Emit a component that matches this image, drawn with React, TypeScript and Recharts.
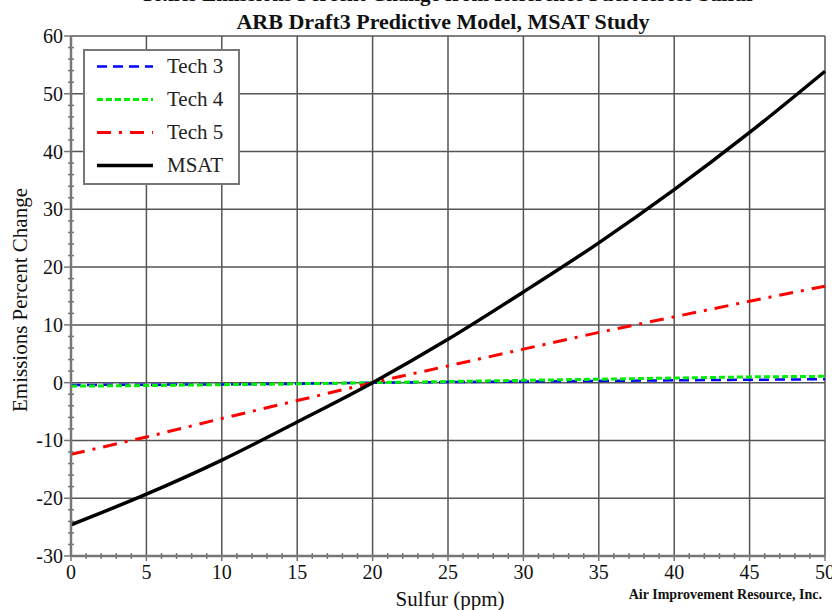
import React from "react";
import {
  LineChart,
  Line,
  XAxis,
  YAxis,
  ReferenceLine,
  Legend,
} from "recharts";

const sulfur = [0, 5, 10, 15, 20, 25, 30, 35, 40, 45, 50];
const tech3 = [-0.4, -0.35, -0.3, -0.2, 0, 0.1, 0.2, 0.3, 0.4, 0.5, 0.6];
const tech4 = [-0.6, -0.5, -0.35, -0.2, 0, 0.2, 0.4, 0.6, 0.8, 1.0, 1.1];
const tech5 = [-12.4, -9.4, -6.2, -3.1, 0, 2.9, 5.8, 8.7, 11.4, 14.1, 16.7];
const msat = [-24.6, -19.3, -13.4, -6.8, 0, 7.5, 15.7, 24.2, 33.4, 43.3, 53.9];

const xMajor = [0, 5, 10, 15, 20, 25, 30, 35, 40, 45, 50];
const yMajor = [-30, -20, -10, 0, 10, 20, 30, 40, 50, 60];
const xTicks = Array.from({ length: 51 }, (_, i) => i);
const yTicks = Array.from({ length: 46 }, (_, i) => -30 + i * 2);

const data = sulfur.map((s, i) => ({
  sulfur: s,
  tech3: tech3[i],
  tech4: tech4[i],
  tech5: tech5[i],
  msat: msat[i],
}));

const series = [
  { key: "tech3", name: "Tech 3", color: "#0000ff", dash: "10 6", width: 2.5 },
  { key: "tech4", name: "Tech 4", color: "#00ee00", dash: "6 3", width: 3 },
  { key: "tech5", name: "Tech 5", color: "#ff0000", dash: "14 8 3 8", width: 3 },
  { key: "msat", name: "MSAT", color: "#000000", dash: undefined, width: 3.5 },
];

const FONT = "'Liberation Serif', 'Times New Roman', serif";
const AXIS = "#777";
const GRID = "#555";

const XTick = (props: any) => {
  const { x, y, payload } = props;
  const major = payload.value % 5 === 0;
  return (
    <g>
      <line x1={x} x2={x} y1={major ? y : y - 3} y2={major ? y + 5 : y + 3} stroke={AXIS} strokeWidth={1.5} />
      {major && (
        <text x={x} y={y + 23} textAnchor="middle" fontSize={20} fontFamily={FONT} fill="#111">
          {payload.value}
        </text>
      )}
    </g>
  );
};

const YTick = (props: any) => {
  const { x, y, payload } = props;
  const major = payload.value % 10 === 0;
  return (
    <g>
      <line x1={major ? x - 7 : x - 3} x2={major ? x : x + 3} y1={y} y2={y} stroke={AXIS} strokeWidth={1.5} />
      {major && (
        <text x={x - 8} y={y + 7} textAnchor="end" fontSize={20} fontFamily={FONT} fill="#111">
          {payload.value}
        </text>
      )}
    </g>
  );
};

const LegendBox = () => (
  <div
    style={{
      width: 153,
      height: 132,
      border: "2px solid #777",
      background: "#fff",
      boxSizing: "content-box",
    }}
  >
    {series.map((s, i) => (
      <div key={s.key} style={{ display: "flex", alignItems: "center", height: 33, marginTop: i === 0 ? -1 : 0 }}>
        <svg width={82} height={33}>
          <line
            x1={12}
            x2={68}
            y1={16.5}
            y2={16.5}
            stroke={s.color}
            strokeWidth={s.width}
            strokeDasharray={s.dash}
          />
        </svg>
        <span style={{ fontFamily: FONT, fontSize: 21, color: "#222" }}>{s.name}</span>
      </div>
    ))}
  </div>
);

export default function App() {
  return (
    <div style={{ position: "absolute", left: 0, top: 0, width: 832, height: 610, background: "#fff", overflow: "hidden" }}>
      <div
        style={{
          position: "absolute",
          top: -18,
          left: 0,
          width: 896,
          textAlign: "center",
          fontFamily: FONT,
          fontWeight: "bold",
          fontSize: 21,
          color: "#111",
        }}
      >
        Toxics Emissions Percent Change from Reference Fuel Across Sulfur
      </div>
      <div
        style={{
          position: "absolute",
          top: 9,
          left: 0,
          width: 886,
          textAlign: "center",
          fontFamily: FONT,
          fontWeight: "bold",
          fontSize: 22,
          color: "#111",
        }}
      >
        ARB Draft3 Predictive Model, MSAT Study
      </div>
      <div
        style={{
          position: "absolute",
          left: 20,
          top: 300,
          transform: "translate(-50%, -50%) rotate(-90deg)",
          whiteSpace: "nowrap",
          fontFamily: FONT,
          fontSize: 21,
          color: "#111",
        }}
      >
        Emissions Percent Change
      </div>
      <div
        style={{
          position: "absolute",
          left: 450,
          top: 599,
          transform: "translate(-50%, -50%)",
          whiteSpace: "nowrap",
          fontFamily: FONT,
          fontSize: 21,
          color: "#111",
        }}
      >
        Sulfur (ppm)
      </div>
      <div
        style={{
          position: "absolute",
          right: 10,
          top: 587,
          whiteSpace: "nowrap",
          fontFamily: FONT,
          fontWeight: "bold",
          fontSize: 14,
          color: "#111",
        }}
      >
        Air Improvement Resource, Inc.
      </div>
      <LineChart
        width={832}
        height={610}
        data={data}
        margin={{ top: 36, right: 7, left: 31, bottom: 24 }}
      >
        {xMajor.map((v) => (
          <ReferenceLine key={"x" + v} x={v} stroke={GRID} strokeWidth={1.5} ifOverflow="extendDomain" />
        ))}
        {yMajor.map((v) => (
          <ReferenceLine key={"y" + v} y={v} stroke={GRID} strokeWidth={1.5} ifOverflow="extendDomain" />
        ))}
        <XAxis
          dataKey="sulfur"
          type="number"
          domain={[0, 50]}
          ticks={xTicks}
          interval={0}
          height={30}
          tickSize={0}
          tickMargin={0}
          tickLine={false}
          tick={<XTick />}
          axisLine={{ stroke: AXIS, strokeWidth: 2.5 }}
        />
        <YAxis
          type="number"
          domain={[-30, 60]}
          ticks={yTicks}
          interval={0}
          width={40}
          tickSize={0}
          tickMargin={0}
          tickLine={false}
          tick={<YTick />}
          axisLine={{ stroke: AXIS, strokeWidth: 2.5 }}
        />
        {series.map((s) => (
          <Line
            key={s.key}
            dataKey={s.key}
            name={s.name}
            type={s.key === "msat" ? "monotone" : "linear"}
            stroke={s.color}
            strokeWidth={s.width}
            strokeDasharray={s.dash}
            dot={false}
            activeDot={false}
            isAnimationActive={false}
          />
        ))}
        <Legend
          layout="vertical"
          align="center"
          verticalAlign="middle"
          content={() => <LegendBox />}
          wrapperStyle={{ left: 83, top: 49, width: 157, height: 136 }}
        />
      </LineChart>
    </div>
  );
}
